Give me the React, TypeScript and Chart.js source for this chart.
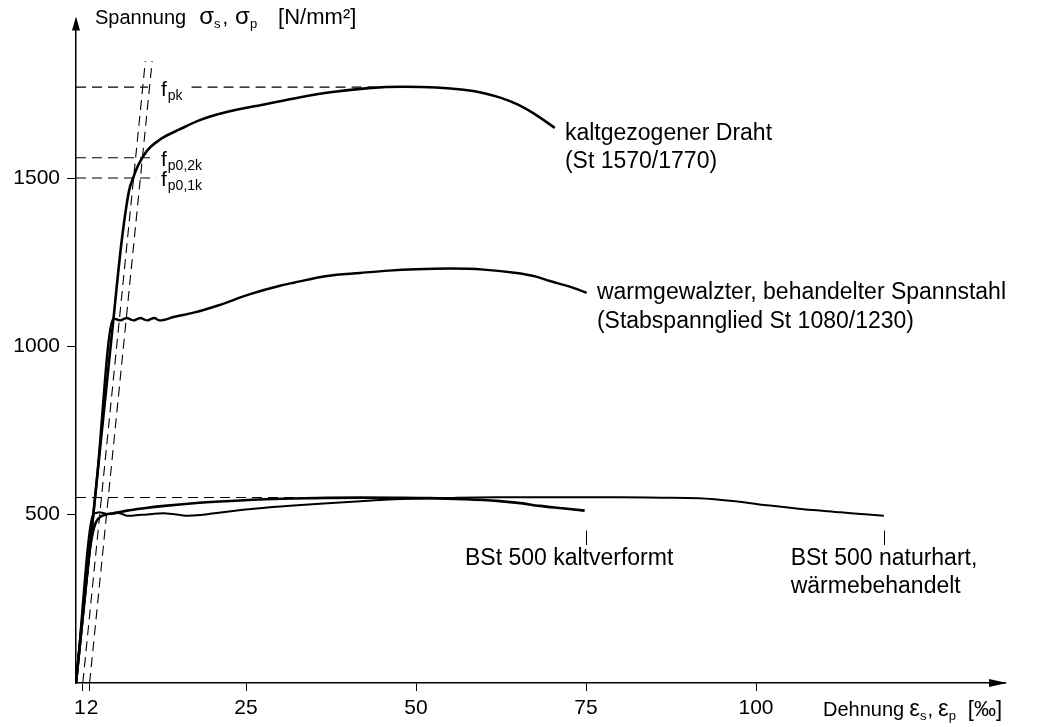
import React, { useEffect, useRef } from "react";
import { Chart, registerables } from "chart.js";

Chart.register(...registerables);

const FONT_FAMILY = "'Liberation Sans', Arial, Helvetica, sans-serif";

// Kaltgezogener Draht (St 1570/1770): Dehnung [‰] / Spannung [N/mm²]
const drahtStrain = [0, 3, 5.5, 6.7, 7.8, 8.4, 9.2, 10.4, 12.4, 15.3, 18.2, 22, 28, 33, 38, 43, 48, 53, 57, 60, 62.5, 65, 67.3, 70.4];
const drahtStress = [0, 590, 1080, 1310, 1462, 1500, 1540, 1580, 1615, 1645, 1672, 1695, 1720, 1740, 1756, 1767, 1771, 1769, 1762, 1752, 1738, 1718, 1692, 1649];

// Warmgewalzter, behandelter Spannstahl (Stabspannglied St 1080/1230)
const stabStrain = [0, 3, 5.5, 6.0, 6.5, 7.0, 7.5, 8.0, 8.5, 9.0, 9.5, 10.0, 10.5, 11.0, 11.5, 12.3, 14.5, 17.3, 21, 25.6, 30, 32, 36.9, 41.8, 46, 50, 55, 60, 64.8, 67.5, 69.7, 72.5, 75.1];
const stabStress = [0, 590, 1082, 1080, 1077, 1081, 1084, 1080, 1077, 1081, 1084, 1080, 1077, 1081, 1084, 1077, 1088, 1100, 1122, 1155, 1180, 1189, 1209, 1218, 1225, 1229, 1231, 1228, 1218, 1208, 1194, 1178, 1159];

// BSt 500 kaltverformt
const kaltStrain = [0, 1.8, 2.2, 2.6, 3.0, 3.6, 4.5, 6, 7.5, 10, 13, 17.3, 22, 27, 32, 37, 42, 47, 52, 57, 61.9, 65, 68.2, 71.5, 74.8];
const kaltStress = [0, 360, 418, 458, 480, 494, 501, 506, 512, 519, 526, 534, 540, 545, 548, 550, 550.5, 550, 549, 546, 541, 535, 526, 519, 512];

// BSt 500 naturhart, wärmebehandelt
const naturStrain = [0, 2.5, 2.9, 3.4, 4.0, 4.8, 5.5, 6.2, 6.9, 7.5, 8.3, 9.2, 10.2, 11.5, 12.8, 14.2, 15.3, 16.5, 17.8, 19.5, 22.2, 27, 32, 37, 41.8, 46, 50.6, 56, 62, 70, 80, 86, 91.6, 97, 102, 107, 112.5, 116, 118.8];
const naturStress = [0, 500, 505, 507, 505, 502, 503, 505, 501, 497, 497, 499, 500, 503, 504, 502, 499, 497, 498, 502, 509, 519, 527, 534, 540, 545, 548, 550, 551.5, 552, 551.5, 550.5, 549, 540, 527, 516, 507, 501, 497];

// Characteristic values (dashed reference lines)
const fpk = 1770;
const fp02k = 1560;
const fp01k = 1500;
const fyLevel = 551;
const offsetStrains = [1, 2];
const offsetTopStress = 1847;
const offsetModulus = 200.8; // N/mm² per ‰

const xTickValues = [1, 2, 25, 50, 75, 100];
const yTickValues = [500, 1000, 1500];

const toPoints = (xs: number[], ys: number[]) => xs.map((x, i) => ({ x, y: ys[i] }));

type Run = { text: string; size: number; dy?: number; gap?: number };

function drawRuns(ctx: CanvasRenderingContext2D, x: number, y: number, runs: Run[]) {
  let cx = x;
  for (const r of runs) {
    cx += r.gap || 0;
    ctx.font = `${r.size}px ${FONT_FAMILY}`;
    ctx.fillText(r.text, cx, y + (r.dy || 0));
    cx += ctx.measureText(r.text).width;
  }
}

const overlayPlugin = {
  id: "overlay",
  afterDraw(chart: any) {
    const { ctx, chartArea } = chart;
    const xs = chart.scales.x;
    const ys = chart.scales.y;
    const px = (v: number) => xs.getPixelForValue(v);
    const py = (v: number) => ys.getPixelForValue(v);
    ctx.save();
    ctx.fillStyle = "#000";
    ctx.strokeStyle = "#000";

    // axis arrows
    const left = chartArea.left;
    const top = chartArea.top;
    ctx.beginPath();
    ctx.moveTo(left, top - 3);
    ctx.lineTo(left - 4, top + 11);
    ctx.lineTo(left + 4, top + 11);
    ctx.closePath();
    ctx.fill();
    const bottom = chartArea.bottom;
    const right = chartArea.right;
    ctx.beginPath();
    ctx.moveTo(right + 2, bottom);
    ctx.lineTo(right - 16, bottom - 4);
    ctx.lineTo(right - 16, bottom + 4);
    ctx.closePath();
    ctx.fill();

    ctx.textBaseline = "alphabetic";
    ctx.textAlign = "left";
    // axis titles
    drawRuns(ctx, 95, 24, [
      { text: "Spannung", size: 20 },
      { text: "σ", size: 24, gap: 13 },
      { text: "s", size: 13, dy: 4 },
      { text: ",", size: 20, gap: 2 },
      { text: "σ", size: 24, gap: 7 },
      { text: "p", size: 13, dy: 4 },
      { text: "[N/mm²]", size: 22, gap: 21 },
    ]);
    drawRuns(ctx, 823, 716, [
      { text: "Dehnung", size: 20 },
      { text: "ε", size: 24, gap: 5 },
      { text: "s", size: 13, dy: 4 },
      { text: ",", size: 20, gap: 1 },
      { text: "ε", size: 24, gap: 5 },
      { text: "p", size: 13, dy: 4 },
      { text: "[‰]", size: 22, gap: 12 },
    ]);

    // characteristic value labels
    const fx = px(12.5);
    drawRuns(ctx, fx, py(1743), [{ text: "f", size: 21 }, { text: "pk", size: 14, gap: 1, dy: 4 }]);
    drawRuns(ctx, fx, py(1537), [{ text: "f", size: 21 }, { text: "p0,2k", size: 14, gap: 1, dy: 4 }]);
    drawRuns(ctx, fx, py(1475), [{ text: "f", size: 21 }, { text: "p0,1k", size: 14, gap: 1, dy: 4 }]);

    // curve labels
    ctx.font = `23px ${FONT_FAMILY}`;
    ctx.textBaseline = "middle";
    ctx.fillText("kaltgezogener Draht", px(71.9), py(1631));
    ctx.fillText("(St 1570/1770)", px(71.9), py(1548));
    ctx.fillText("warmgewalzter, behandelter Spannstahl", px(76.6), py(1159));
    ctx.fillText("(Stabspannglied St 1080/1230)", px(76.6), py(1074));
    ctx.fillText("BSt 500 kaltverformt", px(57.2), py(369));
    ctx.fillText("BSt 500 naturhart,", px(105.1), py(369));
    ctx.fillText("wärmebehandelt", px(105.1), py(286));

    // leader ticks above the BSt labels
    ctx.lineWidth = 1;
    for (const v of [75, 118.8]) {
      ctx.beginPath();
      ctx.moveTo(Math.round(px(v)) + 0.5, py(453));
      ctx.lineTo(Math.round(px(v)) + 0.5, py(410));
      ctx.stroke();
    }
    ctx.restore();
  },
};

export default function App() {
  const canvasRef = useRef<HTMLCanvasElement | null>(null);

  useEffect(() => {
    if (!canvasRef.current) return;
    Chart.defaults.font.family = FONT_FAMILY;
    const dashed = (data: { x: number; y: number }[]) => ({
      data,
      showLine: true,
      pointRadius: 0,
      borderColor: "#000",
      borderWidth: 1.1,
      borderDash: [10, 6],
      tension: 0,
      fill: false,
    });
    const curve = (data: { x: number; y: number }[], w: number) => ({
      data,
      showLine: true,
      pointRadius: 0,
      borderColor: "#000",
      borderWidth: w,
      cubicInterpolationMode: "monotone" as const,
      fill: false,
    });
    const offsetLines = offsetStrains.map((e) =>
      dashed([
        { x: e, y: 0 },
        { x: e + offsetTopStress / offsetModulus, y: offsetTopStress },
      ])
    );
    const chart = new Chart(canvasRef.current, {
      type: "scatter",
      data: {
        datasets: [
          ...offsetLines,
          dashed([{ x: 0, y: fpk }, { x: 10.6, y: fpk }]),
          dashed([{ x: 17, y: fpk }, { x: 44, y: fpk }]),
          dashed([{ x: 0, y: fp02k }, { x: 11.6, y: fp02k }]),
          dashed([{ x: 0, y: fp01k }, { x: 11.8, y: fp01k }]),
          dashed([{ x: 0, y: fyLevel }, { x: 60, y: fyLevel }]),
          curve(toPoints(drahtStrain, drahtStress), 2.6),
          curve(toPoints(stabStrain, stabStress), 2.4),
          curve(toPoints(kaltStrain, kaltStress), 2.6),
          curve(toPoints(naturStrain, naturStress), 2.0),
        ] as any,
      },
      options: {
        responsive: false,
        animation: false,
        devicePixelRatio: 1,
        layout: { padding: { top: 15, right: 32, left: 0, bottom: 0 } },
        plugins: { legend: { display: false }, tooltip: { enabled: false } },
        scales: {
          x: {
            type: "linear",
            min: 0,
            max: (1005 - 76) / 6.8,
            afterFit: (s: any) => {
              s.height = 44;
            },
            afterBuildTicks: (s: any) => {
              s.ticks = xTickValues.map((v) => ({ value: v }));
            },
            grid: { display: true, drawOnChartArea: false, drawTicks: true, tickLength: 8, color: "#000", lineWidth: 1 },
            border: { display: true, color: "#000", width: 1.5 },
            ticks: {
              color: "#000",
              font: { size: 21, family: FONT_FAMILY },
              padding: 5,
              maxRotation: 0,
              autoSkip: false,
              callback: (v: any) => (v === 1 ? "1 " : v === 2 ? " 2" : String(v)),
            },
          },
          y: {
            type: "linear",
            min: 0,
            max: (683 - 15) / 0.339,
            afterFit: (s: any) => {
              s.width = 76;
            },
            afterBuildTicks: (s: any) => {
              s.ticks = yTickValues.map((v) => ({ value: v }));
            },
            grid: { display: true, drawOnChartArea: false, drawTicks: true, tickLength: 9, color: "#000", lineWidth: 1 },
            border: { display: true, color: "#000", width: 1.5 },
            ticks: {
              color: "#000",
              font: { size: 21, family: FONT_FAMILY },
              padding: 7,
              autoSkip: false,
              callback: (v: any) => String(v),
            },
          },
        },
      },
      plugins: [overlayPlugin],
    });
    return () => chart.destroy();
  }, []);

  return (
    <div style={{ position: "absolute", left: 0, top: 0, width: 1037, height: 727, background: "#fff" }}>
      <canvas ref={canvasRef} width={1037} height={727} style={{ display: "block" }} />
    </div>
  );
}
